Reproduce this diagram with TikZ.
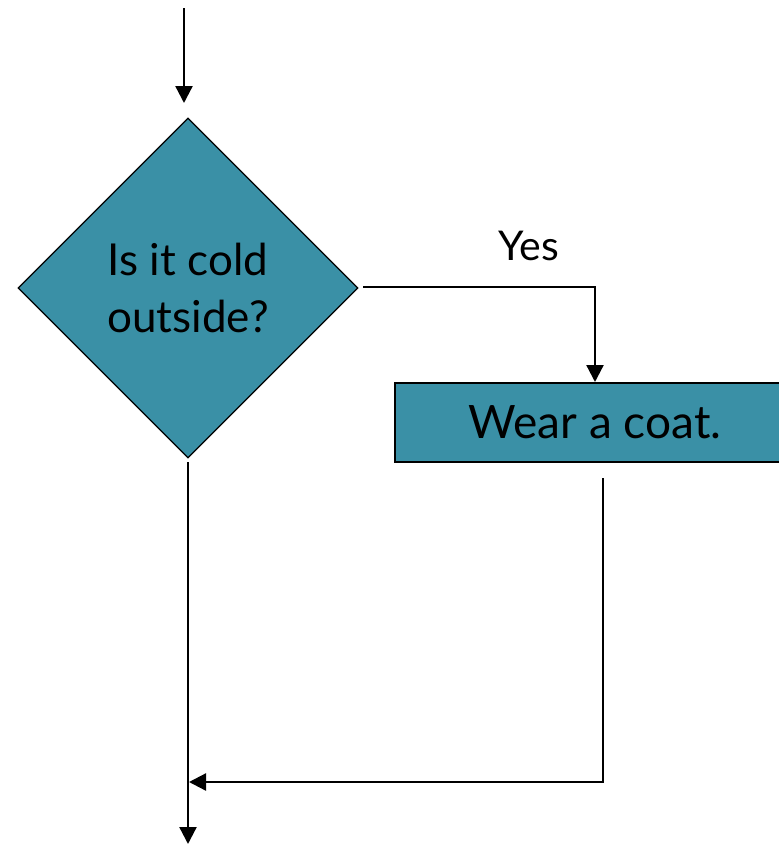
\documentclass[tikz,border=0pt]{standalone}
\usepackage{fontspec}
\setmainfont{Lato}
\usetikzlibrary{shapes.geometric,arrows.meta}
\definecolor{teal1}{RGB}{58,144,166}
\tikzset{
  decision/.style={diamond,draw=black,line width=1.3pt,fill=teal1,aspect=1,minimum width=340pt,minimum height=340pt,inner sep=0pt,align=center,font=\fontsize{44}{57}\selectfont},
  action/.style={rectangle,draw=black,line width=2pt,fill=teal1,minimum width=400pt,minimum height=79pt,inner sep=0pt,font=\fontsize{46}{50}\selectfont},
  conn/.style={draw=black,line width=2.3pt,-{Triangle[width=17pt,length=17pt]}},
  lbl/.style={font=\fontsize{41}{48}\selectfont}
}
\begin{document}
\begin{tikzpicture}[x=1pt,y=-1pt]
\useasboundingbox (0,0) rectangle (779,844);
\clip (0,0) rectangle (779,844);
\node[decision] (d) at (188,288) {Is it cold\\outside?};
\node[action] (r) at (595,422.5) {Wear a coat.};
\node[lbl] (yes) at (529,246) {Yes};
\coordinate (topstart) at (184,8);
\coordinate (topend) at (184,103);
\coordinate (dout) at (363,287);
\coordinate (rout) at (603,478);
\coordinate (bend) at (603,782);
\coordinate (merge) at (189,782);
\coordinate (dbot) at (188,462);
\coordinate (endpt) at (188,844);
\draw[conn] (topstart) -- (topend);
\draw[conn] (dout) -| (r.north);
\draw[conn] (rout) -- (bend) -- (merge);
\draw[conn] (dbot) -- (endpt);
\end{tikzpicture}
\end{document}
